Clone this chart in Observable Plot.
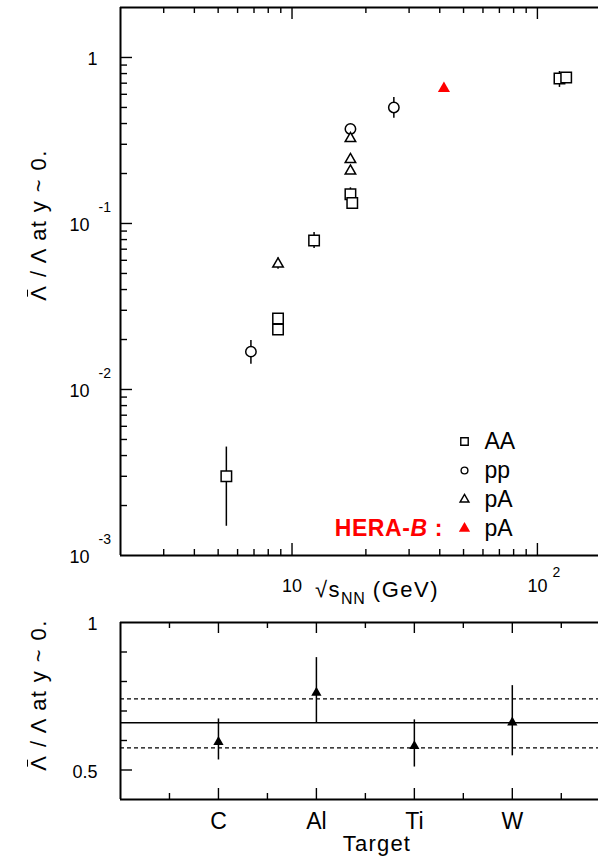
<!DOCTYPE html>
<html>
<head>
<meta charset="utf-8">
<script src="https://cdn.jsdelivr.net/npm/d3@7"></script>
<script src="https://cdn.jsdelivr.net/npm/@observablehq/plot@0.6"></script>
<style>
  html, body { margin: 0; padding: 0; background: #fff; overflow: hidden; }
  #chart { position: relative; width: 598px; height: 859px; overflow: hidden;
           font-family: "Liberation Sans", Arial, Helvetica, sans-serif; color: #000; }
  #chart svg { position: absolute; left: 0; overflow: visible; }
  .lbl { position: absolute; white-space: nowrap; line-height: 1; }
  .ytitle { font-size: 22px; letter-spacing: 1.4px; transform: translate(-50%, -50%) rotate(-90deg); }
  .bar { position: relative; display: inline-block; }
  .bar::after { content: ""; position: absolute; left: 24%; width: 46%; top: -1.5px; border-top: 1.6px solid #000; }
</style>
</head>
<body>
<div id="chart"></div>
<script>
// ---------------- Top panel data: anti-Lambda / Lambda ratio vs sqrt(s_NN) ----------------
const aaEnergy = [5.4, 8.77, 8.77, 12.3, 17.3, 17.6, 123, 131];
const aaRatio  = [0.0030, 0.0268, 0.0230, 0.079, 0.150, 0.133, 0.747, 0.758];
const aaLow    = [0.0015, 0.0268, 0.0230, 0.0707, 0.136, 0.133, 0.660, 0.758];
const aaHigh   = [0.0045, 0.0268, 0.0230, 0.0883, 0.164, 0.133, 0.823, 0.758];

const ppEnergy = [6.8, 17.3, 26];
const ppRatio  = [0.0169, 0.371, 0.50];
const ppLow    = [0.0142, 0.371, 0.43];
const ppHigh   = [0.0197, 0.371, 0.574];

const pAEnergy = [8.77, 17.3, 17.3, 17.3];
const pARatio  = [0.057, 0.325, 0.243, 0.207];
const pALow    = [0.053, 0.312, 0.243, 0.207];
const pAHigh   = [0.062, 0.340, 0.243, 0.207];

const herabEnergy = [41.6];
const herabRatio  = [0.65];
const herabLow    = [0.63];
const herabHigh   = [0.69];

const legendNames = ["AA", "pp", "pA", "pA"];

// top panel ticks
const xMajorTicks = [10, 100];
const xMinorTicks = [3, 4, 5, 6, 7, 8, 9, 20, 30, 40, 50, 60, 70, 80, 90];
const xTickBase   = ["10", "10"];
const xTickExp    = ["", "2"];
const yMajorTicks = [0.01, 0.1, 1];
const yMinorTicks = [0.002, 0.003, 0.004, 0.005, 0.006, 0.007, 0.008, 0.009,
                     0.02, 0.03, 0.04, 0.05, 0.06, 0.07, 0.08, 0.09,
                     0.2, 0.3, 0.4, 0.5, 0.6, 0.7, 0.8, 0.9];
const yPowTicks   = [0.1, 0.01, 0.001];
const yPowExp     = ["-1", "-2", "-3"];
const yPlainTicks = [1];
const yPlainText  = ["1"];

// ---------------- Bottom panel data: ratio per target ----------------
const targets      = ["C", "Al", "Ti", "W"];
const targetRatio  = [0.595, 0.762, 0.581, 0.661];
const targetLow    = [0.534, 0.660, 0.510, 0.548];
const targetHigh   = [0.673, 0.881, 0.670, 0.786];
const meanRatio    = [0.66];
const meanBand     = [0.575, 0.741];

const bMajorYTicks = [0.5];
const bMinorYTicks = [0.6, 0.7, 0.8, 0.9];
const bMinorXTicks = [0.5, 1.5, 2.5, 3.5, 4.5];
const bYLabelVals  = [1, 0.5];
const bYLabelText  = ["1", "0.5"];

// ---------------- helpers ----------------
const FONT = "Liberation Sans, Arial, Helvetica, sans-serif";
const W = 598;
const rows = (xs, ys, lo, hi) => xs.map((x, i) => ({x, y: ys[i], lo: lo[i], hi: hi[i]}));

const aa = rows(aaEnergy, aaRatio, aaLow, aaHigh);
const pp = rows(ppEnergy, ppRatio, ppLow, ppHigh);
const pA = rows(pAEnergy, pARatio, pALow, pAHigh);
const hb = rows(herabEnergy, herabRatio, herabLow, herabHigh);

// ---------------- Top panel ----------------
const T = {top: 7, right: 0, bottom: 45, left: 120, height: 600};
const tIW = W - T.left - T.right;
const tIH = T.height - T.top - T.bottom;
const xDomain = [2, 177.4];
const yDomain = [0.001, 2];

const edgeTicksX = (vals, len, iw, ih) => [
  Plot.tickX(vals, {x: d => d, insetBottom: ih - len, strokeWidth: 1.4}),
  Plot.tickX(vals, {x: d => d, insetTop: ih - len, strokeWidth: 1.4})
];
const edgeTicksY = (vals, len, iw) =>
  Plot.tickY(vals, {y: d => d, insetRight: iw - len, strokeWidth: 1.4});

const legendStyle = [
  {symbol: "square",   r: 4.2, fill: "white", stroke: "black"},
  {symbol: "circle",   r: 3.4, fill: "white", stroke: "black"},
  {symbol: "triangle", r: 3.3, fill: "white", stroke: "black"},
  {symbol: "triangle", r: 4.2, fill: "red",   stroke: "none"}
];
const legendMarks = legendNames.flatMap((name, i) => [
  Plot.dot([name], {frameAnchor: "top-left", dx: 344, dy: 434 + 29 * i,
    symbol: legendStyle[i].symbol, r: legendStyle[i].r, fill: legendStyle[i].fill,
    stroke: legendStyle[i].stroke, strokeWidth: 1.4}),
  Plot.text([name], {frameAnchor: "top-left", dx: 364, dy: 434 + 29 * i, text: d => d,
    textAnchor: "start", lineAnchor: "middle", fontSize: 23, fill: "black"})
]);

const errBars = (data, color) => Plot.ruleX(data, {x: "x", y1: "lo", y2: "hi", stroke: color, strokeWidth: 1.5});

const topPlot = Plot.plot({
  width: W, height: T.height,
  marginTop: T.top, marginRight: T.right, marginBottom: T.bottom, marginLeft: T.left,
  x: {type: "log", domain: xDomain, axis: null},
  y: {type: "log", domain: yDomain, axis: null},
  style: {fontFamily: FONT, color: "black", background: "transparent"},
  marks: [
    // frame
    Plot.ruleY([yDomain[1]], {strokeWidth: 2}),
    Plot.ruleY([yDomain[0]], {strokeWidth: 2}),
    Plot.ruleX([xDomain[0]], {strokeWidth: 2}),
    // ticks
    ...edgeTicksX(xMajorTicks, 12, tIW, tIH),
    ...edgeTicksX(xMinorTicks, 6, tIW, tIH),
    edgeTicksY(yMajorTicks, 12, tIW),
    edgeTicksY(yMinorTicks, 7, tIW),
    // y tick labels
    Plot.text(yPlainTicks, {y: d => d, frameAnchor: "left", dx: -23, dy: 2, text: (d, i) => yPlainText[i],
      textAnchor: "end", lineAnchor: "middle", fontSize: 18}),
    Plot.text(yPowTicks, {y: d => d, frameAnchor: "left", dx: -31, dy: 2, text: () => "10",
      textAnchor: "end", lineAnchor: "middle", fontSize: 18}),
    Plot.text(yPowTicks, {y: d => d, frameAnchor: "left", dx: -22, dy: -16, text: (d, i) => yPowExp[i],
      textAnchor: "start", lineAnchor: "middle", fontSize: 14}),
    // x tick labels
    Plot.text(xMajorTicks, {x: d => d, frameAnchor: "bottom", dy: 31, text: (d, i) => xTickBase[i],
      textAnchor: "middle", lineAnchor: "middle", fontSize: 18}),
    Plot.text(xMajorTicks, {x: d => d, frameAnchor: "bottom", dx: 15, dy: 17, text: (d, i) => xTickExp[i],
      textAnchor: "start", lineAnchor: "middle", fontSize: 14}),
    // error bars
    errBars(aa, "black"), errBars(pp, "black"), errBars(pA, "black"), errBars(hb, "red"),
    // points
    Plot.dot(aa, {x: "x", y: "y", symbol: "square", r: 5.9, fill: "white", stroke: "black", strokeWidth: 1.5}),
    Plot.dot(pp, {x: "x", y: "y", symbol: "circle", r: 5.2, fill: "white", stroke: "black", strokeWidth: 1.5}),
    Plot.dot(pA, {x: "x", y: "y", symbol: "triangle", r: 3.9, fill: "white", stroke: "black", strokeWidth: 1.5}),
    Plot.dot(hb, {x: "x", y: "y", symbol: "triangle", r: 4.5, fill: "red", stroke: "none"}),
    // legend
    ...legendMarks
  ]
});
topPlot.style.top = "0px";

// ---------------- Bottom panel ----------------
const B = {top: 22, right: 0, bottom: 60, left: 120, height: 259};
const bIW = W - B.left - B.right;
const bIH = B.height - B.top - B.bottom;
const bxDomain = [0, 4.88];
const byDomain = [0.4, 1.0];
const tgt = targets.map((t, i) => ({t, x: i + 1, y: targetRatio[i], lo: targetLow[i], hi: targetHigh[i]}));

const botPlot = Plot.plot({
  width: W, height: B.height,
  marginTop: B.top, marginRight: B.right, marginBottom: B.bottom, marginLeft: B.left,
  x: {type: "linear", domain: bxDomain, axis: null},
  y: {type: "linear", domain: byDomain, axis: null},
  style: {fontFamily: FONT, color: "black", background: "transparent"},
  marks: [
    Plot.ruleY([byDomain[1]], {strokeWidth: 2}),
    Plot.ruleY([byDomain[0]], {strokeWidth: 2}),
    Plot.ruleX([bxDomain[0]], {strokeWidth: 2}),
    ...edgeTicksX(tgt.map(d => d.x), 11, bIW, bIH),
    ...edgeTicksX(bMinorXTicks, 6, bIW, bIH),
    edgeTicksY(bMajorYTicks, 12, bIW),
    edgeTicksY(bMinorYTicks, 7, bIW),
    Plot.ruleY(meanRatio, {strokeWidth: 1.5}),
    Plot.ruleY(meanBand, {strokeWidth: 1.4, strokeDasharray: "4,3"}),
    Plot.ruleX(tgt, {x: "x", y1: "lo", y2: "hi", strokeWidth: 1.5}),
    Plot.dot(tgt, {x: "x", y: "y", symbol: "triangle", r: 3.8, fill: "black", stroke: "none"}),
    Plot.text(bYLabelVals, {y: d => d, frameAnchor: "left", dx: -23, dy: 2, text: (d, i) => bYLabelText[i],
      textAnchor: "end", lineAnchor: "middle", fontSize: 18}),
    Plot.text(tgt, {x: "x", frameAnchor: "bottom", dy: 22, text: "t", textAnchor: "middle",
      lineAnchor: "middle", fontSize: 23})
  ]
});
botPlot.style.top = "600px";

const chart = document.getElementById("chart");
chart.appendChild(topPlot);
chart.appendChild(botPlot);

// ---------------- Titles (HTML text) ----------------
function addLabel(html, css, cls) {
  const el = document.createElement("div");
  el.className = "lbl" + (cls ? " " + cls : "");
  el.innerHTML = html;
  Object.assign(el.style, css);
  chart.appendChild(el);
  return el;
}
const yTitle = '<span class="bar">\u039B</span> / \u039B at y ~ 0.';
addLabel(yTitle, {left: "39px", top: "225px"}, "ytitle");
addLabel(yTitle, {left: "39px", top: "695px"}, "ytitle");
addLabel('\u221As<span style="font-size:16px;position:relative;top:7px;letter-spacing:0.5px">NN</span> (GeV)',
  {left: "315px", top: "579px", fontSize: "22px", letterSpacing: "1.5px"});
addLabel("Target", {left: "377px", top: "844px", fontSize: "22px", letterSpacing: "1.2px",
  transform: "translate(-50%, -50%)"});
addLabel('HERA-<i>B</i> :', {left: "443px", top: "528px", fontSize: "23px", fontWeight: "bold",
  letterSpacing: "0.6px", color: "red", transform: "translate(-100%, -50%)"});
</script>
</body>
</html>
